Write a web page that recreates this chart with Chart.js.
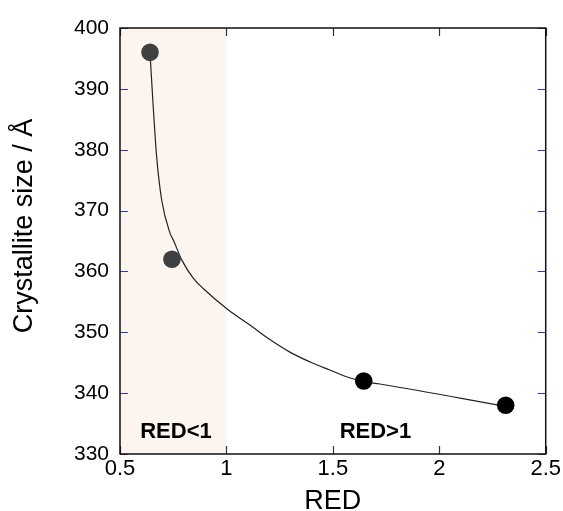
<!DOCTYPE html>
<html>
<head>
<meta charset="utf-8">
<script src="https://cdn.jsdelivr.net/npm/chart.js@4/dist/chart.umd.min.js"></script>
<style>
  html, body { margin: 0; padding: 0; background: #fff; }
  #wrap { width: 563px; height: 511px; }
</style>
</head>
<body>
<div id="wrap"><canvas id="c" width="563" height="511"></canvas></div>
<script>
// measured points
const redX = [0.641, 0.744, 1.645, 2.312]
const sizeY = [396, 362, 342, 338]
const dotColors = ['#404040', '#404040', '#000000', '#000000']

// fitted curve
const curveX = [0.641, 0.656, 0.672, 0.696, 0.735, 0.750, 0.790, 0.844, 0.891, 1.008, 1.110, 1.204, 1.300, 1.408, 1.486, 1.564, 1.643, 1.721, 2.315]
const curveY = [395.9, 387.1, 378.9, 371.7, 366.3, 365.2, 361.9, 358.9, 357.2, 353.7, 351.2, 348.8, 346.7, 344.9, 343.8, 342.7, 341.9, 341.5, 337.8]

const regionLabels = [
  { text: 'RED<1', x: 0.763, y: 333.6 },
  { text: 'RED>1', x: 1.70, y: 333.6 }
]
const shadeFrom = 0.5
const shadeTo = 1

const toPts = (xs, ys) => xs.map((x, i) => ({ x, y: ys[i] }))

const frame = {
  id: 'frame',
  beforeDatasetsDraw (chart) {
    const { ctx, chartArea: a, scales: { x } } = chart
    ctx.save()
    ctx.fillStyle = '#fcf4ee'
    const x0 = x.getPixelForValue(shadeFrom)
    const x1 = x.getPixelForValue(shadeTo)
    ctx.fillRect(x0, a.top, x1 - x0, a.bottom - a.top)
    ctx.restore()
  },
  afterDatasetsDraw (chart) {
    const { ctx, chartArea: a, scales: { x, y } } = chart
    ctx.save()
    // tick marks, inside
    ctx.lineWidth = 1.2
    ctx.strokeStyle = '#3333cc'
    y.ticks.forEach(t => {
      const py = Math.round(y.getPixelForValue(t.value)) + 0.5
      ctx.beginPath()
      ctx.moveTo(a.left, py); ctx.lineTo(a.left + 8, py)
      ctx.moveTo(a.right, py); ctx.lineTo(a.right - 8, py)
      ctx.stroke()
    })
    ctx.strokeStyle = '#333333'
    x.ticks.forEach(t => {
      const px = Math.round(x.getPixelForValue(t.value)) + 0.5
      ctx.beginPath()
      ctx.moveTo(px, a.bottom); ctx.lineTo(px, a.bottom - 8)
      ctx.moveTo(px, a.top); ctx.lineTo(px, a.top + 8)
      ctx.stroke()
    })
    // box
    ctx.strokeStyle = '#111'
    ctx.lineWidth = 1.5
    ctx.strokeRect(a.left, a.top, a.right - a.left, a.bottom - a.top)
    // region labels
    ctx.fillStyle = '#000'
    ctx.font = 'bold 22px "Liberation Sans", Arial, sans-serif'
    ctx.textAlign = 'center'
    ctx.textBaseline = 'middle'
    regionLabels.forEach(l => {
      ctx.fillText(l.text, x.getPixelForValue(l.x), y.getPixelForValue(l.y))
    })
    ctx.restore()
  }
}

const font = { family: '"Liberation Sans", Arial, sans-serif' }

new Chart(document.getElementById('c'), {
  type: 'scatter',
  data: {
    datasets: [
      {
        label: 'data',
        data: toPts(redX, sizeY),
        pointRadius: 8.8,
        pointHoverRadius: 8.8,
        backgroundColor: dotColors,
        borderColor: dotColors,
        borderWidth: 0,
        showLine: false,
        order: 0
      },
      {
        label: 'fit',
        data: toPts(curveX, curveY),
        showLine: true,
        pointRadius: 0,
        borderColor: '#222',
        borderWidth: 1.2,
        cubicInterpolationMode: 'monotone',
        order: 1
      }
    ]
  },
  options: {
    responsive: false,
    animation: false,
    layout: { padding: { top: 28, right: 17, left: 0, bottom: 0 } },
    plugins: { legend: { display: false }, tooltip: { enabled: false } },
    scales: {
      x: {
        type: 'linear',
        min: 0.5,
        max: 2.5,
        ticks: { stepSize: 0.5, padding: 2, color: '#000', font: { ...font, size: 22 }, callback: v => String(v) },
        grid: { display: true, drawOnChartArea: false, drawTicks: false },
        border: { display: false },
        title: { display: true, text: 'RED', color: '#000', font: { ...font, size: 27, lineHeight: 1 }, padding: { top: 0, bottom: -4 } },
        afterFit: s => { s.height = 57 }
      },
      y: {
        min: 330,
        max: 400,
        ticks: { stepSize: 10, padding: 11, color: '#000', font: { ...font, size: 21 } },
        grid: { display: true, drawOnChartArea: false, drawTicks: false },
        border: { display: false },
        title: { display: true, text: '    Crystallite size / Å', color: '#000', font: { ...font, size: 27, lineHeight: 1 }, padding: { top: 11.5, bottom: 0 } },
        afterFit: s => { s.width = 120 }
      }
    }
  },
  plugins: [frame]
})
</script>
</body>
</html>
